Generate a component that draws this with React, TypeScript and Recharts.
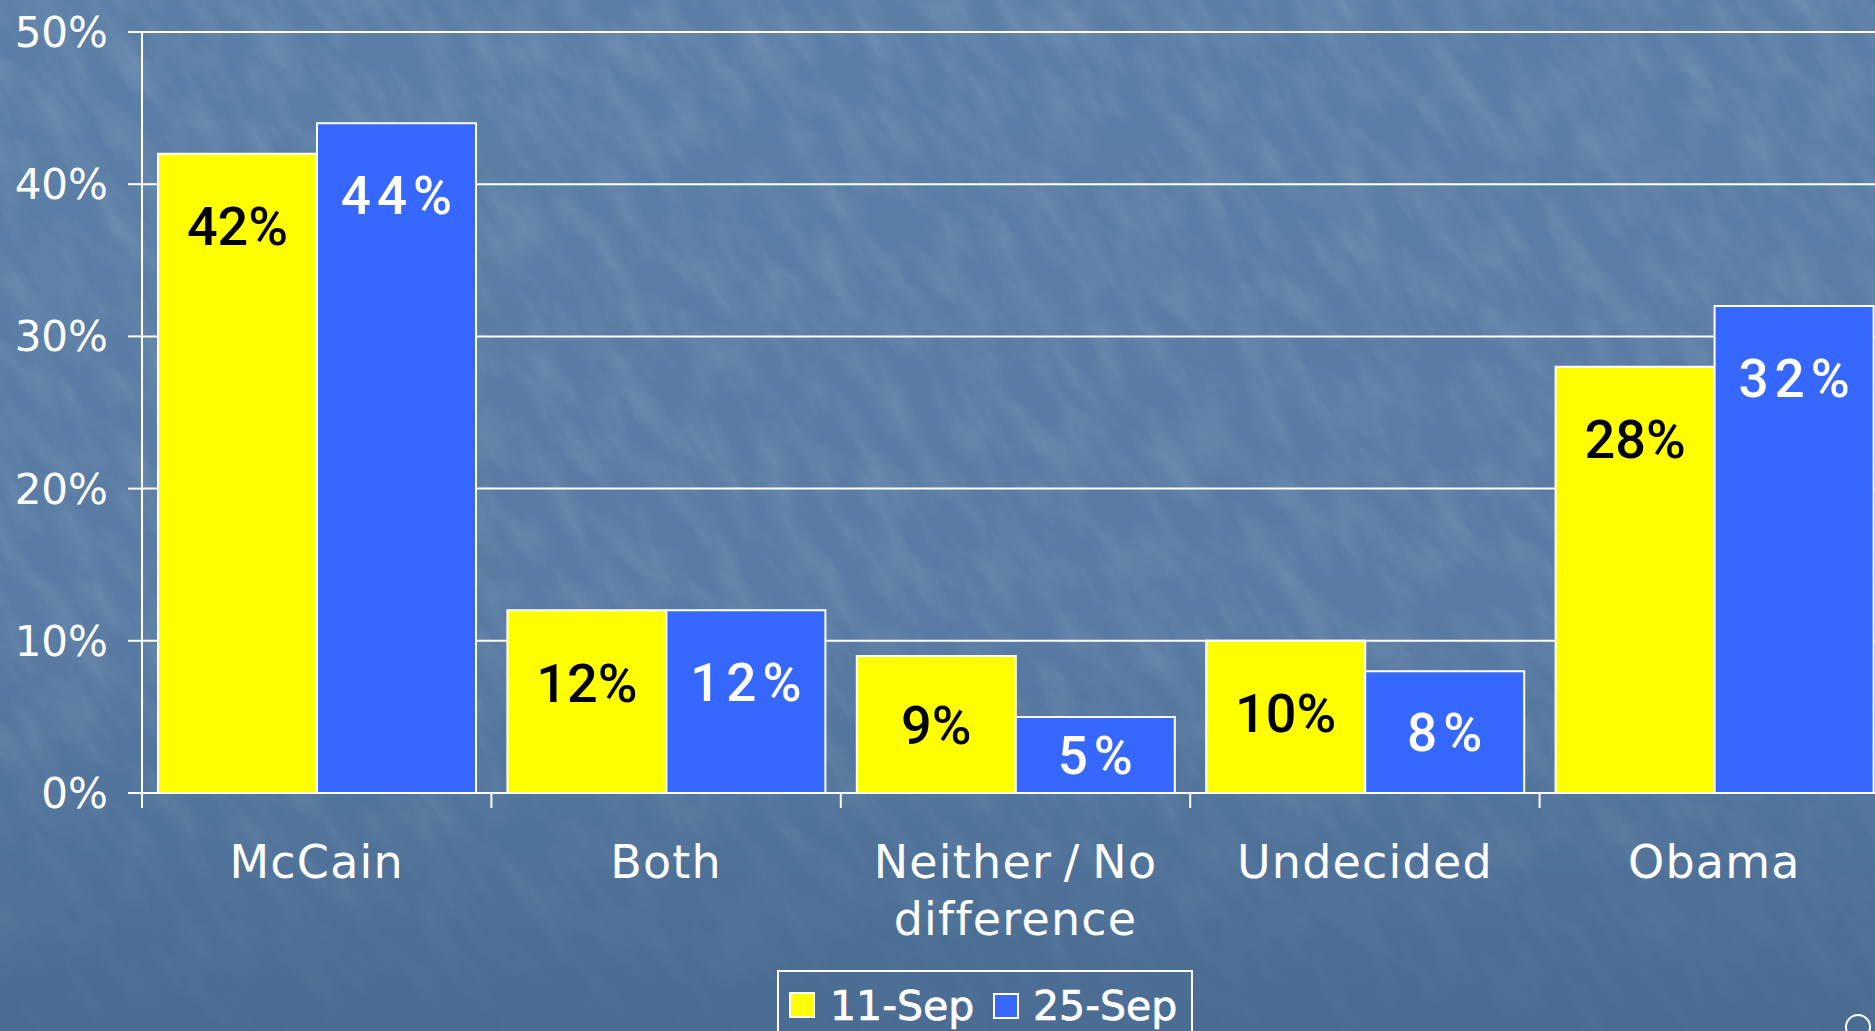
import React from 'react';
import { BarChart, Bar, XAxis, YAxis, CartesianGrid, LabelList, Legend } from 'recharts';

const categories = ['McCain', 'Both', 'Neither / No\ndifference', 'Undecided', 'Obama'];
const sep11Values = [42, 12, 9, 10, 28];
const sep25Values = [44, 12, 5, 8, 32];
const seriesNames = ['11-Sep', '25-Sep'];
const yTicks = [0, 10, 20, 30, 40, 50];

const data = categories.map((c, i) => ({ category: c, s11: sep11Values[i], s25: sep25Values[i] }));

const FONT = '"DejaVu Sans", Verdana, sans-serif';
const LABEL_FONT = 'Roboto, "Liberation Sans", Arial, sans-serif';
const CHART_W = 1889;
const CHART_H = 1031;
const Y_AXIS_W = 142;
const BAND = (CHART_W - Y_AXIS_W) / categories.length;
const YELLOW = '#FFFF00';
const BLUE = '#3668FF';

const makeLabel = (color: string, spacing: number, weight: number, size: number) => (props: any) => {
  const { x, y, width, height, value } = props;
  const cy = Number(y) + Math.min(72, Number(height) / 2);
  return (
    <text
      x={Number(x) + Number(width) / 2 + spacing / 2}
      y={cy}
      dy="0.36em"
      textAnchor="middle"
      fill={color}
      fontSize={size}
      fontWeight={weight}
      fontFamily={LABEL_FONT}
      letterSpacing={spacing}
    >
      {value}%
    </text>
  );
};

const XTick = (props: any) => {
  const { x, y, payload, index } = props;
  const lines = String(payload.value).split('\n');
  const left = x - BAND / 2;
  return (
    <g>
      <line x1={left} x2={left} y1={y} y2={y + 15} stroke="#fff" strokeWidth={2} />
      {index === categories.length - 1 && (
        <line x1={x + BAND / 2} x2={x + BAND / 2} y1={y} y2={y + 15} stroke="#fff" strokeWidth={2} />
      )}
      <text
        x={x}
        y={y + 85}
        textAnchor="middle"
        fill="#fff"
        fontSize={46}
        fontFamily={FONT}
        letterSpacing={1.2}
        wordSpacing={-4}
      >
        {lines.map((l, i) => (
          <tspan key={i} x={x} dy={i === 0 ? 0 : 57}>
            {l}
          </tspan>
        ))}
      </text>
    </g>
  );
};

const LegendBox = () => (
  <svg width={416} height={70} style={{ display: 'block' }}>
    <rect x={1} y={1} width={414} height={120} fill="none" stroke="#fff" strokeWidth={2} />
    <rect x={13} y={23} width={24} height={24} fill={YELLOW} stroke="#fff" strokeWidth={2} />
    <text x={53} y={50} fill="#fff" stroke="#fff" strokeWidth={0.7} fontSize={41} fontFamily={FONT}>
      {seriesNames[0]}
    </text>
    <rect x={217} y={24} width={24} height={24} fill={BLUE} stroke="#fff" strokeWidth={2} />
    <text x={256} y={50} fill="#fff" stroke="#fff" strokeWidth={0.7} fontSize={41} fontFamily={FONT}>
      {seriesNames[1]}
    </text>
  </svg>
);

export default function App() {
  return (
    <div
      style={{
        position: 'fixed',
        left: 0,
        top: 0,
        width: 1875,
        height: 1031,
        overflow: 'hidden',
        background: 'linear-gradient(180deg, #5c7fa7 0%, #5a7ca4 60%, #50739a 80%, #4a6b92 100%)',
      }}
    >
      <svg width={1875} height={1031} style={{ position: 'absolute', left: 0, top: 0 }}>
        <defs>
          <filter id="tex" x="0" y="0" width="100%" height="100%">
            <feTurbulence type="fractalNoise" baseFrequency="0.04 0.014" numOctaves={4} seed={11} result="n" />
            <feColorMatrix
              in="n"
              type="matrix"
              values="0 0 0 0 1  0 0 0 0 1  0 0 0 0 1  0 0 0 1.4 -0.5"
            />
          </filter>
          <linearGradient id="fade" x1="0" y1="0" x2="0" y2="1">
            <stop offset="0" stopColor="#fff" stopOpacity={1} />
            <stop offset="0.75" stopColor="#fff" stopOpacity={0.8} />
            <stop offset="1" stopColor="#fff" stopOpacity={0.2} />
          </linearGradient>
          <mask id="fm">
            <rect x={0} y={0} width={1875} height={1031} fill="url(#fade)" />
          </mask>
        </defs>
        <g mask="url(#fm)">
          <g transform="rotate(-35 937 515)">
            <rect x={-700} y={-700} width={3300} height={2500} filter="url(#tex)" opacity={0.14} />
          </g>
        </g>
        <circle cx={1858} cy={1027} r={12} fill="none" stroke="#fff" strokeWidth={2} />
      </svg>
      <div style={{ position: 'absolute', left: 0, top: 0 }}>
        <BarChart
          width={CHART_W}
          height={CHART_H}
          data={data}
          margin={{ top: 32, right: 0, left: 0, bottom: 0 }}
          barCategoryGap={16}
          barGap={0}
        >
          <CartesianGrid vertical={false} stroke="#fff" strokeWidth={2} />
          <XAxis
            dataKey="category"
            height={238}
            axisLine={{ stroke: '#fff', strokeWidth: 2 }}
            tickLine={false}
            tickSize={0}
            tickMargin={0}
            interval={0}
            tick={<XTick />}
          />
          <YAxis
            width={Y_AXIS_W}
            domain={[0, 50]}
            ticks={yTicks}
            interval={0}
            tickFormatter={(v: number) => `${v}%`}
            axisLine={{ stroke: '#fff', strokeWidth: 2 }}
            tickLine={{ stroke: '#fff', strokeWidth: 2 }}
            tickSize={14}
            tickMargin={20}
            tick={{ fill: '#fff', fontSize: 42, fontFamily: FONT }}
          />
          <Legend
            layout="horizontal"
            verticalAlign="middle"
            align="center"
            content={<LegendBox />}
            wrapperStyle={{ left: 777, top: 970, width: 416, height: 70 }}
          />
          <Bar dataKey="s11" name={seriesNames[0]} fill={YELLOW} stroke="#fff" strokeWidth={2} isAnimationActive={false}>
            <LabelList dataKey="s11" content={makeLabel('#000', 0, 500, 54)} />
          </Bar>
          <Bar dataKey="s25" name={seriesNames[1]} fill={BLUE} stroke="#fff" strokeWidth={2} isAnimationActive={false}>
            <LabelList dataKey="s25" content={makeLabel('#fff', 6, 500, 53)} />
          </Bar>
        </BarChart>
      </div>
    </div>
  );
}
